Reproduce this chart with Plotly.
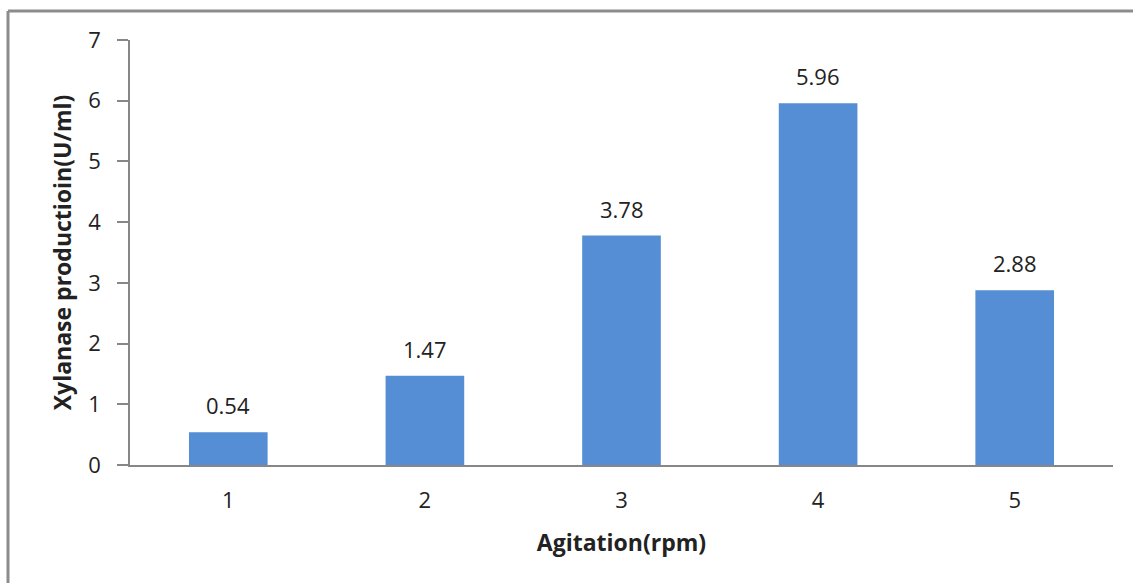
import plotly.graph_objects as go

# Agitation levels and measured xylanase activity
agitation = ["1", "2", "3", "4", "5"]
xylanase = [0.54, 1.47, 3.78, 5.96, 2.88]
y_ticks = [0, 1, 2, 3, 4, 5, 6, 7]

W, H = 1133, 583
L, R, T, B = 130, 20, 40, 118
pw, ph = W - L - R, H - T - B

def px(x):
    return (x - L) / pw

def py(y):
    return (H - B - y) / ph

FONT = "Open Sans"
BAR = "#558ED5"
GRID = "#878787"
TXT = "#222222"

fig = go.Figure(
    go.Bar(
        x=agitation,
        y=xylanase,
        marker=dict(color=BAR, line=dict(width=0)),
        width=0.4,
        hoverinfo="x+y",
    )
)

# value labels above each bar (category axis positions are indices)
for i, val in enumerate(xylanase):
    fig.add_annotation(
        x=i, y=val, xref="x", yref="y", text=f"{val:.2f}", showarrow=False,
        yanchor="bottom", yshift=10,
        font=dict(family=FONT, size=22, color=TXT),
    )

# outer frame of the chart
fig.add_shape(type="line", xref="paper", yref="paper",
              x0=px(8), x1=px(1140), y0=py(11), y1=py(11),
              line=dict(color="#8C8C8C", width=3))
fig.add_shape(type="line", xref="paper", yref="paper",
              x0=px(8), x1=px(8), y0=py(11), y1=py(600),
              line=dict(color="#8C8C8C", width=3))

fig.update_layout(
    width=W, height=H,
    margin=dict(l=L, r=R, t=T, b=B),
    paper_bgcolor="white", plot_bgcolor="white",
    showlegend=False,
    font=dict(family=FONT, size=22, color=TXT),
    xaxis=dict(
        type="category", range=[-0.5, 4.5],
        showline=True, linecolor=GRID, linewidth=1.5,
        ticks="", showgrid=False, zeroline=False,
        tickfont=dict(size=22), ticklabelstandoff=15,
        title=dict(text="<b>Agitation(rpm)</b>", font=dict(size=23), standoff=22),
    ),
    yaxis=dict(
        range=[0, 7], tickvals=y_ticks,
        showline=True, linecolor=GRID, linewidth=1.5,
        ticks="outside", ticklen=11, tickcolor=GRID, tickwidth=1.5,
        showgrid=False, zeroline=False,
        tickfont=dict(size=22), ticklabelstandoff=12,
        title=dict(text="<b>Xylanase productioin(U/ml)</b>", font=dict(size=23), standoff=10),
    ),
)

fig.write_html("out.html")
